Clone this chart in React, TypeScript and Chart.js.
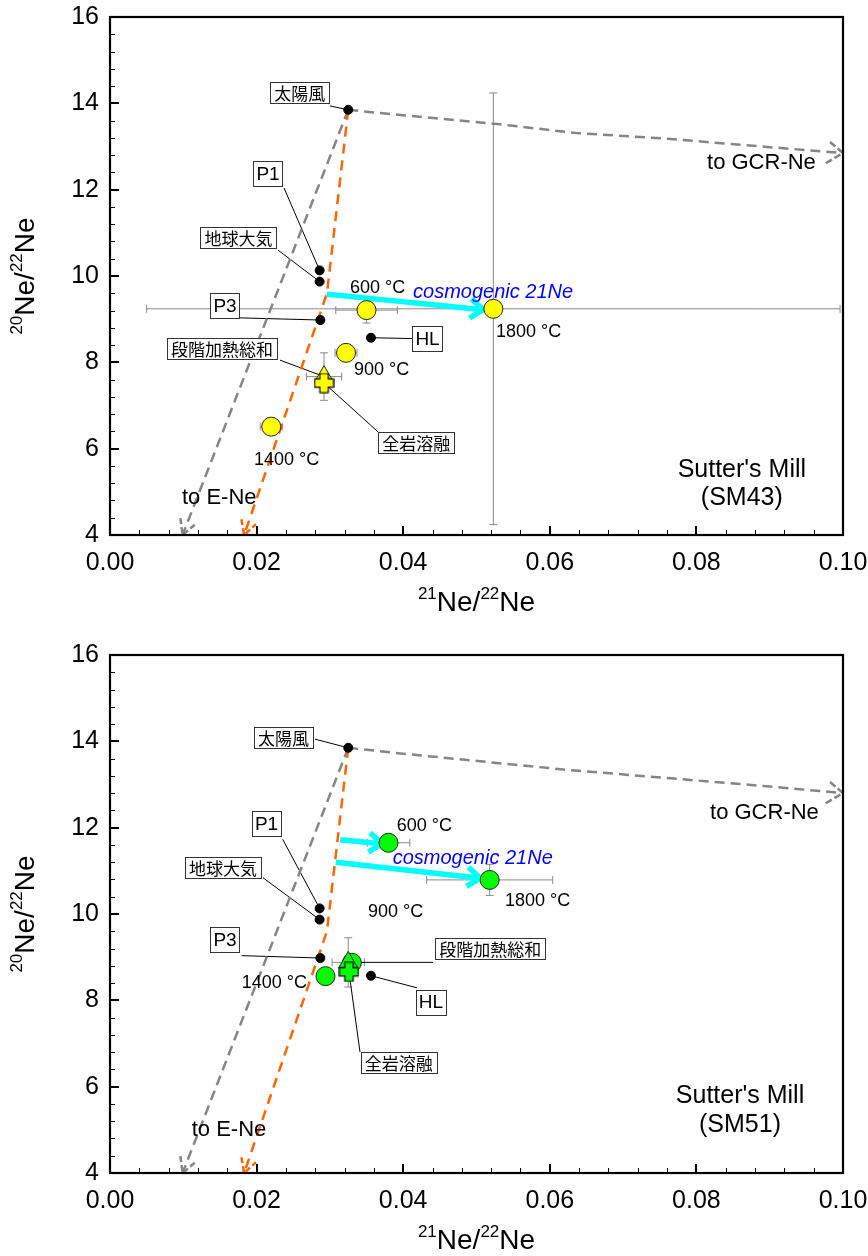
import React, { useEffect, useRef } from 'react';
import { Chart, registerables } from 'chart.js';
Chart.register(...registerables);

// ---------- axes ----------
const xTicks = [0, 0.02, 0.04, 0.06, 0.08, 0.1];
const xTickLabels = ['0.00', '0.02', '0.04', '0.06', '0.08', '0.10'];
const yTicks = [4, 6, 8, 10, 12, 14, 16];
const yTickLabels = ['4', '6', '8', '10', '12', '14', '16'];
const xMinorStep = 0.004;
const yMinorStep = 0.4;

// ---------- reference components ----------
const refNames = ['太陽風', 'P1', '地球大気', 'P3', 'HL'];
const refX = [0.0325, 0.0286, 0.0286, 0.0287, 0.0356];
const refY = [13.85, 10.13, 9.87, 8.98, 8.57];

// ---------- step heating labels ----------
const stepLabels = ['600 °C', '900 °C', '1400 °C', '1800 °C'];

// ---------- SM43 ----------
const sm43X = [0.035, 0.0322, 0.022, 0.0523];
const sm43Y = [9.21, 8.22, 6.51, 9.24];
const sm43XErr = [0.0042, 0.0015, 0.0015, 0.0473];
const sm43YErr = [0.3, 0.1, 0.1, 5.0];
const sm43Total = [0.0292, 7.67];
const sm43TotalErr = [0.0024, 0.55];
const sm43Bulk = [0.0292, 7.52];
const sm43BulkErr = [0.001, 0.2];

// ---------- SM51 ----------
const sm51X = [0.038, 0.033, 0.0294, 0.0518];
const sm51Y = [11.65, 8.87, 8.56, 10.79];
const sm51XErr = [0.0029, 0.001, 0.001, 0.0086];
const sm51YErr = [0.1, 0.1, 0.1, 0.36];
const sm51Total = [0.0325, 8.88];
const sm51TotalErr = [0.0022, 0.57];
const sm51Bulk = [0.0326, 8.66];
const sm51BulkErr = [0.001, 0.1];

// ---------- mixing / trend lines ----------
const eNeLineX = [0.0325, 0.0099];
const eNeLineY = [13.85, 4.0];
const fractLineX = [0.0325, 0.0296, 0.0183];
const fractLineY = [13.85, 9.6, 4.0];
const gcr43X = [0.0325, 0.0396, 0.0528, 0.0637, 0.076, 0.0896, 0.1];
const gcr43Y = [13.85, 13.73, 13.52, 13.31, 13.18, 12.99, 12.85];
const gcr51X = [0.0325, 0.0396, 0.0623, 0.076, 0.0896, 0.1];
const gcr51Y = [13.85, 13.72, 13.34, 13.15, 12.96, 12.8];
const cosmo43X = [0.0296, 0.0509];
const cosmo43Y = [9.58, 9.22];
const cosmo51aX = [0.0314, 0.0371];
const cosmo51aY = [11.72, 11.63];
const cosmo51bX = [0.0308, 0.0505];
const cosmo51bY = [11.2, 10.83];

const zip = (xs: number[], ys: number[]) => xs.map((x, i) => ({ x, y: ys[i] }));

const LATIN = '"Liberation Sans", Arial, sans-serif';
const CJK = '"Noto Sans CJK JP", sans-serif';

type Callout = { text: string; bx: number; by: number; lx: number; ly: number; tx: number; ty: number };
type Label = { text: string; x: number; y: number; font: string; color?: string; align?: CanvasTextAlign };
type ErrBar = { x: number; y: number; dx: number; dy: number };

function makePlus(fill: string, size: number) {
  const c = document.createElement('canvas');
  c.width = size + 2;
  c.height = size + 2;
  const ctx = c.getContext('2d')!;
  const cx = c.width / 2, cy = c.height / 2, h = size / 2, a = size * 0.22;
  ctx.beginPath();
  ctx.moveTo(cx - a, cy - h); ctx.lineTo(cx + a, cy - h); ctx.lineTo(cx + a, cy - a);
  ctx.lineTo(cx + h, cy - a); ctx.lineTo(cx + h, cy + a); ctx.lineTo(cx + a, cy + a);
  ctx.lineTo(cx + a, cy + h); ctx.lineTo(cx - a, cy + h); ctx.lineTo(cx - a, cy + a);
  ctx.lineTo(cx - h, cy + a); ctx.lineTo(cx - h, cy - a); ctx.lineTo(cx - a, cy - a);
  ctx.closePath();
  ctx.fillStyle = fill; ctx.fill();
  ctx.lineWidth = 1.2; ctx.strokeStyle = '#000'; ctx.stroke();
  return c;
}

function drawSup(ctx: CanvasRenderingContext2D, parts: { t: string; sup?: boolean }[], main: number, sup: number) {
  let w = 0;
  for (const p of parts) {
    ctx.font = `${p.sup ? sup : main}px ${LATIN}`;
    w += ctx.measureText(p.t).width;
  }
  let x = -w / 2;
  ctx.textAlign = 'left';
  ctx.textBaseline = 'alphabetic';
  for (const p of parts) {
    ctx.font = `${p.sup ? sup : main}px ${LATIN}`;
    ctx.fillText(p.t, x, p.sup ? main * 0.35 - main * 0.42 : main * 0.35);
    x += ctx.measureText(p.t).width;
  }
}

function makePlugin(spec: { callouts: Callout[]; labels: Label[]; errors: ErrBar[] }) {
  return {
    id: 'neDecor',
    beforeDatasetsDraw(chart: any) {
      const ctx: CanvasRenderingContext2D = chart.ctx;
      const xs = chart.scales.x, ys = chart.scales.y;
      ctx.save();
      // error bars
      ctx.strokeStyle = '#8a8a8a';
      ctx.lineWidth = 1;
      const seg = (a: number, b: number, c: number, d: number) => {
        ctx.beginPath(); ctx.moveTo(a, b); ctx.lineTo(c, d); ctx.stroke();
      };
      for (const e of spec.errors) {
        const px = xs.getPixelForValue(e.x), py = ys.getPixelForValue(e.y);
        if (e.dx) {
          const l = xs.getPixelForValue(e.x - e.dx), r = xs.getPixelForValue(e.x + e.dx);
          seg(l, py, r, py); seg(l, py - 4, l, py + 4); seg(r, py - 4, r, py + 4);
        }
        if (e.dy) {
          const t = ys.getPixelForValue(e.y + e.dy), b = ys.getPixelForValue(e.y - e.dy);
          seg(px, t, px, b); seg(px - 4, t, px + 4, t); seg(px - 4, b, px + 4, b);
        }
      }
      // leader lines
      ctx.strokeStyle = '#000';
      for (const c of spec.callouts) {
        seg(xs.getPixelForValue(c.lx), ys.getPixelForValue(c.ly), xs.getPixelForValue(c.tx), ys.getPixelForValue(c.ty));
      }
      ctx.restore();
    },
    afterDatasetDraw(chart: any, args: any) {
      const ds = chart.data.datasets[args.index];
      if (!ds.arrowHead) return;
      const ctx: CanvasRenderingContext2D = chart.ctx;
      const xs = chart.scales.x, ys = chart.scales.y;
      const pts = ds.data;
      const n = pts.length;
      const x1 = xs.getPixelForValue(pts[n - 2].x), y1 = ys.getPixelForValue(pts[n - 2].y);
      const x2 = xs.getPixelForValue(pts[n - 1].x), y2 = ys.getPixelForValue(pts[n - 1].y);
      const ang = Math.atan2(y2 - y1, x2 - x1);
      const { len, spread, width, dash } = ds.arrowHead;
      ctx.save();
      ctx.strokeStyle = ds.borderColor;
      ctx.lineWidth = width;
      ctx.setLineDash(dash || []);
      ctx.lineJoin = 'miter';
      ctx.beginPath();
      ctx.moveTo(x2 - len * Math.cos(ang - spread), y2 - len * Math.sin(ang - spread));
      ctx.lineTo(x2, y2);
      ctx.lineTo(x2 - len * Math.cos(ang + spread), y2 - len * Math.sin(ang + spread));
      ctx.stroke();
      ctx.restore();
    },
    afterDatasetsDraw(chart: any) {
      const ctx: CanvasRenderingContext2D = chart.ctx;
      const xs = chart.scales.x, ys = chart.scales.y;
      ctx.save();
      for (const c of spec.callouts) {
        const bx = xs.getPixelForValue(c.bx), by = ys.getPixelForValue(c.by);
        const latin = /^[A-Za-z0-9 ]+$/.test(c.text);
        ctx.font = latin ? `19px ${LATIN}` : `17px ${CJK}`;
        const w = ctx.measureText(c.text).width + (latin ? 6 : 8);
        const h = latin ? 25 : 21;
        ctx.fillStyle = '#fff';
        ctx.fillRect(bx - w / 2, by - h / 2, w, h);
        ctx.strokeStyle = '#333';
        ctx.lineWidth = 1;
        ctx.strokeRect(Math.round(bx - w / 2) + 0.5, Math.round(by - h / 2) + 0.5, Math.round(w), Math.round(h));
        ctx.fillStyle = '#000';
        ctx.textAlign = 'center';
        ctx.textBaseline = 'middle';
        ctx.fillText(c.text, bx, by + 1);
      }
      for (const l of spec.labels) {
        ctx.font = l.font;
        ctx.fillStyle = l.color || '#000';
        ctx.textAlign = l.align || 'left';
        ctx.textBaseline = 'middle';
        ctx.fillText(l.text, xs.getPixelForValue(l.x), ys.getPixelForValue(l.y));
      }
      ctx.restore();
    },
    afterDraw(chart: any) {
      const ctx: CanvasRenderingContext2D = chart.ctx;
      const xs = chart.scales.x, ys = chart.scales.y;
      const a = chart.chartArea;
      ctx.save();
      ctx.strokeStyle = '#000';
      // minor ticks
      ctx.lineWidth = 1;
      for (let v = 4; v <= 16.001; v += yMinorStep) {
        const p = Math.round(ys.getPixelForValue(v)) + 0.5;
        ctx.beginPath(); ctx.moveTo(a.left, p); ctx.lineTo(a.left + 5, p); ctx.stroke();
      }
      for (let v = 0; v <= 0.1001; v += xMinorStep) {
        const p = Math.round(xs.getPixelForValue(v)) + 0.5;
        ctx.beginPath(); ctx.moveTo(p, a.bottom); ctx.lineTo(p, a.bottom - 5); ctx.stroke();
      }
      // major ticks
      ctx.lineWidth = 2;
      for (const v of yTicks) {
        const p = Math.round(ys.getPixelForValue(v));
        ctx.beginPath(); ctx.moveTo(a.left, p); ctx.lineTo(a.left + 9, p); ctx.stroke();
      }
      for (const v of xTicks) {
        const p = Math.round(xs.getPixelForValue(v));
        ctx.beginPath(); ctx.moveTo(p, a.bottom); ctx.lineTo(p, a.bottom - 9); ctx.stroke();
      }
      // frame
      ctx.lineWidth = 2.2;
      ctx.strokeRect(a.left, a.top, a.right - a.left, a.bottom - a.top);
      // tick labels
      ctx.fillStyle = '#000';
      ctx.font = `25px ${LATIN}`;
      ctx.textAlign = 'right';
      ctx.textBaseline = 'middle';
      yTicks.forEach((v, i) => ctx.fillText(yTickLabels[i], a.left - 11, ys.getPixelForValue(v)));
      ctx.textAlign = 'center';
      xTicks.forEach((v, i) => ctx.fillText(xTickLabels[i], xs.getPixelForValue(v), a.bottom + 28));
      // axis titles
      ctx.save();
      ctx.translate((a.left + a.right) / 2, a.bottom + 66);
      drawSup(ctx, [{ t: '21', sup: true }, { t: 'Ne/' }, { t: '22', sup: true }, { t: 'Ne' }], 28, 17);
      ctx.restore();
      ctx.save();
      ctx.translate(24, (a.top + a.bottom) / 2);
      ctx.rotate(-Math.PI / 2);
      drawSup(ctx, [{ t: '20', sup: true }, { t: 'Ne/' }, { t: '22', sup: true }, { t: 'Ne' }], 28, 17);
      ctx.restore();
      ctx.restore();
    },
  };
}

function lineDs(data: any[], color: string, width: number, dash: number[], order: number, head?: any) {
  return {
    data, showLine: true, borderColor: color, borderWidth: width, borderDash: dash,
    pointRadius: 0, fill: false, tension: 0, order, arrowHead: head, clip: false,
  };
}

function buildConfig(opts: any) {
  const { stepX, stepY, total, bulk, color, gcrX, gcrY, cosmo, callouts, labels, errors, bottom } = opts;
  const gray = '#858585';
  const orange = '#FF6600';
  const cyan = '#00FFFF';
  const datasets: any[] = [
    lineDs(zip(eNeLineX, eNeLineY), gray, 2.5, [10, 6], 20, { len: 17, spread: 0.5, width: 2.5, dash: [6, 3] }),
    lineDs(zip(gcrX, gcrY), gray, 2.5, [10, 6], 20, { len: 20, spread: 0.62, width: 2.5, dash: [7, 3] }),
    lineDs(zip(fractLineX, fractLineY), orange, 2.5, [10, 7], 19, { len: 16, spread: 0.5, width: 2.5, dash: [6, 3] }),
    ...cosmo.map((c: any) => lineDs(c, cyan, 5.5, [], 15, { len: 16, spread: 0.65, width: 5.5 })),
    {
      data: zip(refX, refY), pointRadius: 4.5, pointBackgroundColor: '#000', pointBorderColor: '#000',
      pointBorderWidth: 1, order: 10,
    },
    {
      data: zip(stepX, stepY), pointRadius: 9.5, pointBackgroundColor: color, pointBorderColor: '#222',
      pointBorderWidth: 1, order: 5,
    },
    {
      data: [{ x: total[0], y: total[1] }], pointStyle: 'triangle', pointRadius: 11,
      pointBackgroundColor: color, pointBorderColor: '#222', pointBorderWidth: 1, order: 4,
    },
    {
      data: [{ x: bulk[0], y: bulk[1] }], pointStyle: makePlus(color, 19), pointRadius: 10, order: 3,
    },
  ];
  return {
    type: 'scatter' as const,
    data: { datasets },
    options: {
      animation: false as const,
      responsive: false,
      devicePixelRatio: 1,
      events: [],
      layout: { padding: { left: 110, right: 25, top: 17, bottom } },
      scales: {
        x: { type: 'linear' as const, min: 0, max: 0.1, display: false },
        y: { type: 'linear' as const, min: 4, max: 16, display: false },
      },
      plugins: { legend: { display: false }, tooltip: { enabled: false } },
    },
    plugins: [makePlugin({ callouts, labels, errors })],
  };
}

function errorsFrom(xs: number[], ys: number[], dxs: number[], dys: number[], total: number[], totalErr: number[], bulk: number[], bulkErr: number[]): ErrBar[] {
  const out: ErrBar[] = xs.map((x, i) => ({ x, y: ys[i], dx: dxs[i], dy: dys[i] }));
  out.push({ x: total[0], y: total[1], dx: totalErr[0], dy: totalErr[1] });
  out.push({ x: bulk[0], y: bulk[1], dx: bulkErr[0], dy: bulkErr[1] });
  return out;
}

const tempFont = `18px ${LATIN}`;
const cosmoFont = `italic 20px ${LATIN}`;
const dirFont = `22px ${LATIN}`;
const nameFont = `25px ${LATIN}`;

const sm43Opts = {
  stepX: sm43X, stepY: sm43Y, total: sm43Total, bulk: sm43Bulk, color: '#FFFF00',
  gcrX: gcr43X, gcrY: gcr43Y, bottom: 85,
  cosmo: [zip(cosmo43X, cosmo43Y)],
  errors: errorsFrom(sm43X, sm43Y, sm43XErr, sm43YErr, sm43Total, sm43TotalErr, sm43Bulk, sm43BulkErr),
  callouts: [
    { text: refNames[0], bx: 0.0259, by: 14.25, lx: 0.03, ly: 13.94, tx: refX[0], ty: refY[0] },
    { text: refNames[1], bx: 0.02156, by: 12.375, lx: 0.02374, ly: 12.04, tx: refX[1], ty: refY[1] },
    { text: refNames[2], bx: 0.01753, by: 10.89, lx: 0.02292, ly: 10.6, tx: refX[2], ty: refY[2] },
    { text: refNames[3], bx: 0.01569, by: 9.31, lx: 0.01774, ly: 9.03, tx: refX[3], ty: refY[3] },
    { text: refNames[4], bx: 0.04332, by: 8.55, lx: 0.0413, ly: 8.55, tx: refX[4], ty: refY[4] },
    { text: '段階加熱総和', bx: 0.01528, by: 8.32, lx: 0.0232, ly: 8.05, tx: sm43Total[0], ty: sm43Total[1] },
    { text: '全岩溶融', bx: 0.04179, by: 6.15, lx: 0.03656, ly: 6.39, tx: sm43Bulk[0], ty: sm43Bulk[1] },
  ],
  labels: [
    { text: stepLabels[0], x: 0.03274, y: 9.72, font: tempFont },
    { text: 'cosmogenic 21Ne', x: 0.04134, y: 9.63, font: cosmoFont, color: '#0000FF' },
    { text: stepLabels[3], x: 0.05266, y: 8.7, font: tempFont },
    { text: stepLabels[1], x: 0.0333, y: 7.82, font: tempFont },
    { text: stepLabels[2], x: 0.01965, y: 5.74, font: tempFont },
    { text: 'to E-Ne', x: 0.00982, y: 4.86, font: dirFont },
    { text: 'to GCR-Ne', x: 0.08145, y: 12.62, font: dirFont },
    { text: "Sutter's Mill", x: 0.0862, y: 5.51, font: nameFont, align: 'center' as CanvasTextAlign },
    { text: '(SM43)', x: 0.0862, y: 4.86, font: nameFont, align: 'center' as CanvasTextAlign },
  ],
};

const sm51Opts = {
  stepX: sm51X, stepY: sm51Y, total: sm51Total, bulk: sm51Bulk, color: '#00FF00',
  gcrX: gcr51X, gcrY: gcr51Y, bottom: 83,
  cosmo: [zip(cosmo51aX, cosmo51aY), zip(cosmo51bX, cosmo51bY)],
  errors: errorsFrom(sm51X, sm51Y, sm51XErr, sm51YErr, sm51Total, sm51TotalErr, sm51Bulk, sm51BulkErr),
  callouts: [
    { text: refNames[0], bx: 0.02367, by: 14.09, lx: 0.02797, ly: 14.05, tx: refX[0], ty: refY[0] },
    { text: refNames[1], bx: 0.02135, by: 12.09, lx: 0.02356, ly: 11.73, tx: refX[1], ty: refY[1] },
    { text: refNames[2], bx: 0.01542, by: 11.08, lx: 0.02087, ly: 10.84, tx: refX[2], ty: refY[2] },
    { text: refNames[3], bx: 0.01569, by: 9.4, lx: 0.01797, ly: 9.035, tx: refX[3], ty: refY[3] },
    { text: '段階加熱総和', bx: 0.05188, by: 9.19, lx: 0.04407, ly: 8.88, tx: sm51Total[0], ty: sm51Total[1] },
    { text: refNames[4], bx: 0.04379, by: 7.96, lx: 0.04188, ly: 8.29, tx: refX[4], ty: refY[4] },
    { text: '全岩溶融', bx: 0.03938, by: 6.56, lx: 0.03411, ly: 6.8, tx: sm51Bulk[0], ty: sm51Bulk[1] },
  ],
  labels: [
    { text: stepLabels[0], x: 0.03911, y: 12.04, font: tempFont },
    { text: 'cosmogenic 21Ne', x: 0.03857, y: 11.29, font: cosmoFont, color: '#0000FF' },
    { text: stepLabels[3], x: 0.05389, y: 10.31, font: tempFont },
    { text: stepLabels[1], x: 0.0352, y: 10.05, font: tempFont },
    { text: stepLabels[2], x: 0.01797, y: 8.41, font: tempFont },
    { text: 'to E-Ne', x: 0.01115, y: 5.0, font: dirFont },
    { text: 'to GCR-Ne', x: 0.08186, y: 12.33, font: dirFont },
    { text: "Sutter's Mill", x: 0.08595, y: 5.77, font: nameFont, align: 'center' as CanvasTextAlign },
    { text: '(SM51)', x: 0.08595, y: 5.11, font: nameFont, align: 'center' as CanvasTextAlign },
  ],
};

function NeChart({ opts, top, height }: { opts: any; top: number; height: number }) {
  const ref = useRef<HTMLCanvasElement>(null);
  useEffect(() => {
    const chart = new Chart(ref.current as HTMLCanvasElement, buildConfig(opts) as any);
    return () => chart.destroy();
  }, []);
  return (
    <canvas
      ref={ref}
      width={868}
      height={height}
      style={{ position: 'absolute', left: 0, top, width: 868, height, display: 'block' }}
    />
  );
}

export default function App() {
  return (
    <div style={{ position: 'absolute', left: 0, top: 0, width: 868, height: 1256, background: '#fff', overflow: 'hidden' }}>
      <NeChart opts={sm43Opts} top={0} height={620} />
      <NeChart opts={sm51Opts} top={638} height={618} />
    </div>
  );
}
